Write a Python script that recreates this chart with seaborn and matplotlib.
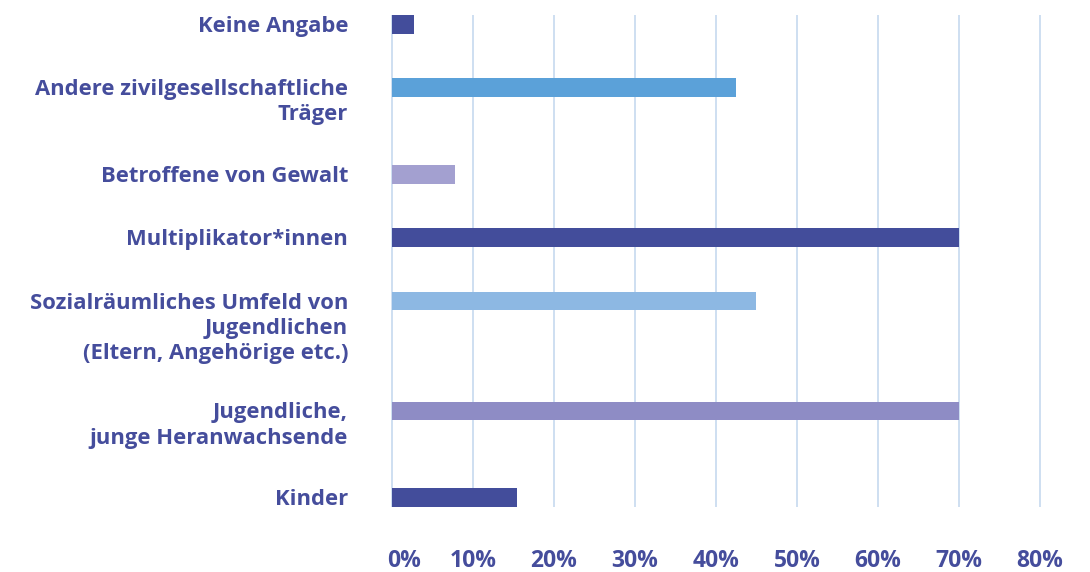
import numpy as np
import pandas as pd
import seaborn as sns
import matplotlib.pyplot as plt
from matplotlib import transforms

# values (share in %)
labels = [
    "Keine Angabe",
    "Andere zivilgesellschaftliche\nTräger",
    "Betroffene von Gewalt",
    "Multiplikator*innen",
    "Sozialräumliches Umfeld von\nJugendlichen\n(Eltern, Angehörige etc.)",
    "Jugendliche,\njunge Heranwachsende",
    "Kinder",
]
values = [2.7, 42.5, 7.8, 70.0, 45.0, 70.0, 15.4]
colors = ["#434d9b", "#5ba1d9", "#a3a0d0", "#434d9b", "#8db8e3", "#8e8cc5", "#434d9b"]
ticks = [0, 10, 20, 30, 40, 50, 60, 70, 80]
tick_labels = [f"{t}%" for t in ticks]

text_color = "#454d9c"
grid_color = "#cadcf0"

sns.set_theme(style="white")
plt.rcParams["font.family"] = ["Open Sans", "DejaVu Sans"]

# vertical layout: each entry takes room for its label lines (pixel-like units)
n_lines = [lab.count("\n") + 1 for lab in labels]
pos = [0.0]
for n in n_lines[:-1]:
    pos.append(pos[-1] + 40 + 23.3 * n)

df = pd.DataFrame({"label": labels, "value": values, "pos": pos})

fig = plt.figure(figsize=(10.9, 5.72), dpi=100)
ax = fig.add_axes([390.4 / 1090, 65 / 572, 652 / 1090, 492 / 572])

bar_h = 18.7
width = bar_h / np.min(np.diff(sorted(pos)))
sns.barplot(data=df, x="value", y="pos", hue="label",
            palette=dict(zip(labels, colors)), orient="y", native_scale=True,
            width=width, saturation=1, legend=False, ax=ax, linewidth=0)

ax.set_xlim(-0.2, 80.3)
ax.set_ylim(pos[-1] + bar_h / 2, pos[0] - bar_h / 2)
ax.set_axisbelow(True)
ax.grid(axis="x", color=grid_color, linewidth=1.3)
ax.grid(axis="y", visible=False)
for s in ax.spines.values():
    s.set_visible(False)

ax.set_xticks(ticks)
ax.set_xticklabels(tick_labels, fontsize=16.5, fontweight="bold", color=text_color)
ax.tick_params(axis="x", length=0, pad=30)
# first tick label sits a bit right of its gridline in the original
first = ax.get_xticklabels()[0]
first.set_transform(first.get_transform() + transforms.ScaledTranslation(12 / 100, 0, fig.dpi_scale_trans))
ax.set_yticks([])
ax.set_xlabel("")
ax.set_ylabel("")

# category labels, first line level with the bar
trans = transforms.blended_transform_factory(ax.transAxes, ax.transData)
for p, lab in zip(pos, labels):
    for k, line in enumerate(lab.split("\n")):
        ax.text(-0.065, p + 2 + 25 * k, line, transform=trans, ha="right", va="center",
                fontsize=15.8, fontweight="bold", color=text_color, clip_on=False)

fig.savefig("out.png", dpi=100)
